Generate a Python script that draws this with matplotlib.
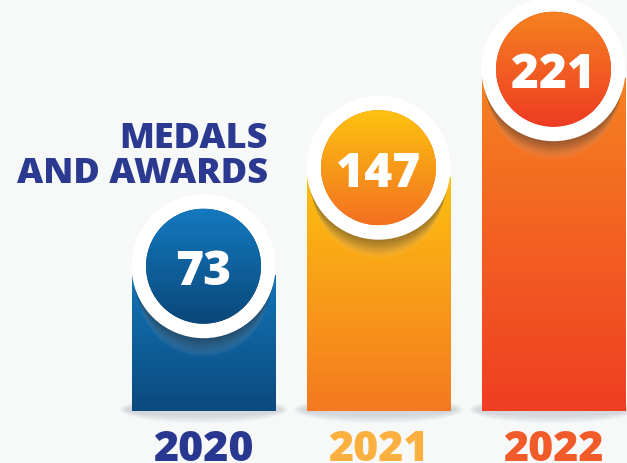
import numpy as np
import matplotlib
matplotlib.use('Agg')
import matplotlib.pyplot as plt
from matplotlib.patches import Rectangle, Circle, Ellipse
from matplotlib import transforms
from matplotlib.colors import LinearSegmentedColormap

# ---- data ----
years = ['2020', '2021', '2022']
values = [73, 147, 221]
title_lines = ['MEDALS', 'AND AWARDS']

bar_top_colors = ['#1374B8', '#FDC010', '#F68121']
bar_bot_colors = ['#0B4A7E', '#F47920', '#EF3E23']
circ_top_colors = ['#1479BF', '#FDC30F', '#F58220']
circ_bot_colors = ['#0A4779', '#F37021', '#EE3B24']
year_colors = ['#283891', '#FBB040', '#F15A29']
TITLE_COLOR = '#2B3990'
BG = '#F7F9F9'
FONT = ['Open Sans', 'DejaVu Sans']

W, H, DPI = 627, 464, 100
PT = 72.0 / DPI  # points per pixel

fig = plt.figure(figsize=(W / DPI, H / DPI), dpi=DPI, facecolor=BG)
ax = fig.add_axes([0, 0, 1, 1])
ax.set_facecolor(BG)
ax.set_autoscale_on(False)
ax.axis('off')
XLIM = (-1.163, 2.42)
YLIM = (-68.1, 280.5)
ax.set_xlim(*XLIM)
ax.set_ylim(*YLIM)

BASE = -29
BAR_W = 0.82
R_OUT = 72
R_IN = 57.5
CIRCLE_UP = 9  # px above bar top

grad = np.linspace(1, 0, 256).reshape(-1, 1)

for i, (yr, v) in enumerate(zip(years, values)):
    # base shadow
    for k in range(8):
        e = Ellipse((i, BASE + 1), BAR_W + 0.06 + 0.012 * k, 10 + 1.5 * k,
                    facecolor='#9aa3ab', edgecolor='none', alpha=0.05, zorder=1)
        ax.add_patch(e)
    # bar
    rect = Rectangle((i - BAR_W / 2, BASE), BAR_W, v - BASE,
                     facecolor=bar_bot_colors[i], edgecolor='none', zorder=2)
    ax.add_patch(rect)
    cmap = LinearSegmentedColormap.from_list('b%d' % i, [bar_bot_colors[i], bar_top_colors[i]])
    im = ax.imshow(grad, extent=(i - BAR_W / 2, i + BAR_W / 2, BASE, v), cmap=cmap,
                   aspect='auto', zorder=2.1, interpolation='bilinear')
    im.set_clip_path(rect)

    tr = transforms.Affine2D().translate(0, CIRCLE_UP) + \
        transforms.ScaledTranslation(i, v, ax.transData)

    # soft shadow below the circle
    N = 26
    for k in range(N):
        t = k / (N - 1)
        col = (t ** 3,) * 3
        sc = Circle((0, -1 - k), R_OUT - 0.3 * k, transform=tr, facecolor=col,
                    edgecolor='none', alpha=0.025, zorder=3)
        ax.add_artist(sc)
        sc.set_clip_path(rect)

    # white ring
    ax.add_artist(Circle((0, 0), R_OUT, transform=tr, facecolor='white',
                         edgecolor='none', zorder=4))
    inner = Circle((0, 0), R_IN, transform=tr, facecolor=circ_bot_colors[i],
                   edgecolor='none', zorder=5)
    ax.add_artist(inner)
    cmap2 = LinearSegmentedColormap.from_list('c%d' % i, [circ_bot_colors[i], circ_top_colors[i]])
    im2 = ax.imshow(grad, extent=(-R_IN, R_IN, -R_IN, R_IN), cmap=cmap2,
                    transform=tr, zorder=5.1, interpolation='bilinear', aspect='auto')
    im2.set_clip_path(inner)

    # value text
    ax.annotate(str(v), xy=(i, v), xytext=(0, (CIRCLE_UP - 18) * PT),
                textcoords='offset points', ha='center', va='baseline',
                color='white', fontsize=34.5, fontweight='heavy', family=FONT, zorder=6)
    # year label
    ax.annotate(yr, xy=(i, BASE), xytext=(0, -49 * PT), textcoords='offset points',
                ha='center', va='baseline', color=year_colors[i], fontsize=31,
                fontweight='heavy', family=FONT, zorder=6)

fig.text(268 / W, 1 - 148 / H, title_lines[0], ha='right', va='baseline',
         color=TITLE_COLOR, fontsize=26, fontweight='heavy', family=FONT)
fig.text(268 / W, 1 - 183 / H, title_lines[1], ha='right', va='baseline',
         color=TITLE_COLOR, fontsize=26, fontweight='heavy', family=FONT)

ax.set_xlim(*XLIM)
ax.set_ylim(*YLIM)
fig.savefig('out.png', dpi=DPI, facecolor=BG)
